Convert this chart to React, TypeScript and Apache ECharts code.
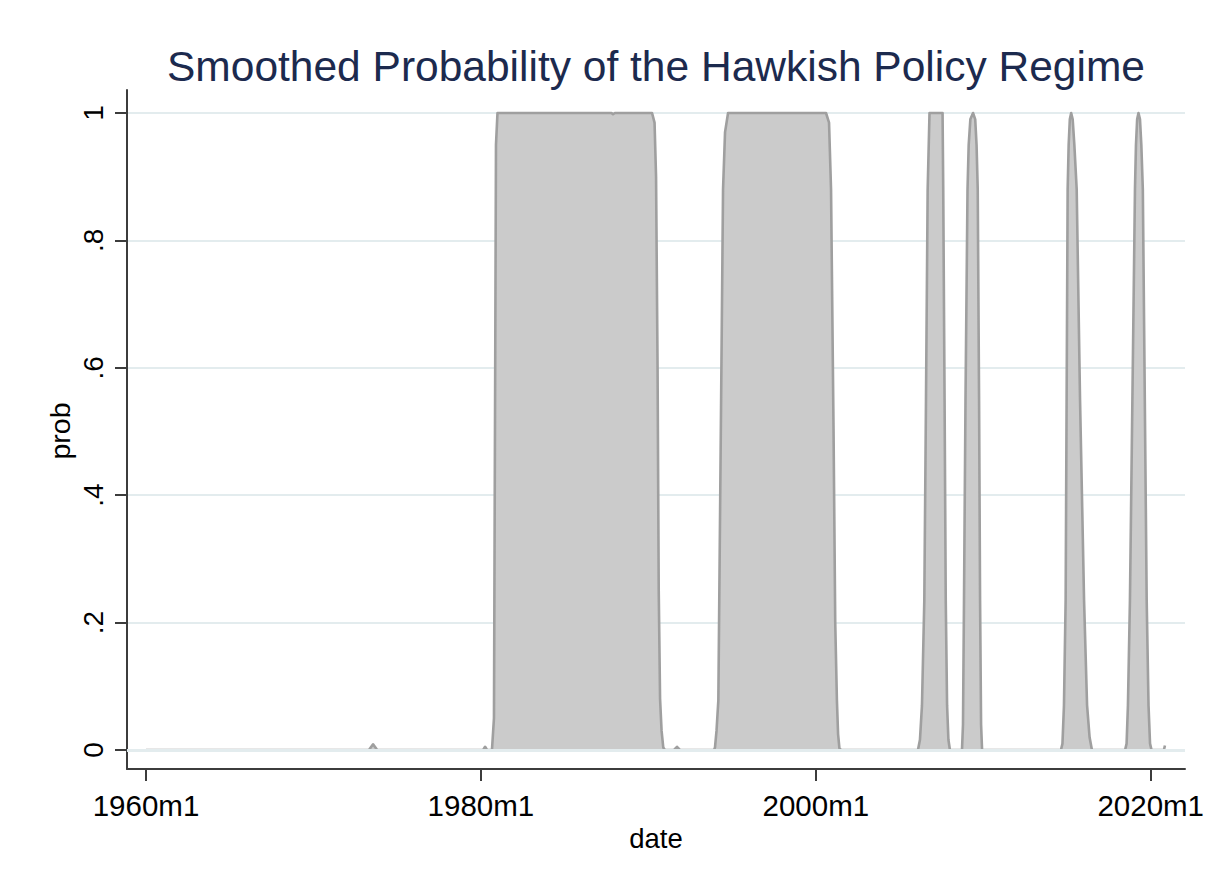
import React, { useEffect, useRef } from "react";
import * as echarts from "echarts";

const TITLE = "Smoothed Probability of the Hawkish Policy Regime";
const X_NAME = "date";
const Y_NAME = "prob";

// dates as fractional years (year + (month-1)/12)
const DATES = [
  1960.0, 1973.31, 1973.56, 1973.81, 1980.13, 1980.25, 1980.37,
  1980.66, 1980.78, 1980.84, 1980.9, 1980.99, 1987.8, 1987.89, 1988.0,
  1990.22, 1990.37, 1990.46, 1990.55, 1990.62, 1990.7, 1990.79, 1990.89, 1990.99,
  1991.53, 1991.71, 1991.89,
  1993.92, 1993.98, 1994.07, 1994.18, 1994.31, 1994.46, 1994.58, 1994.76,
  2000.61, 2000.79, 2000.91, 2001.06, 2001.16, 2001.26, 2001.33, 2001.41, 2001.51,
  2006.1, 2006.22, 2006.34, 2006.48, 2006.58, 2006.68, 2006.79,
  2007.57, 2007.61, 2007.69, 2007.76, 2007.84, 2007.92, 2008.01,
  2008.73, 2008.79, 2008.85, 2008.94, 2009.06, 2009.13, 2009.23, 2009.39,
  2009.52, 2009.6, 2009.67, 2009.75, 2009.81, 2009.87, 2009.93,
  2014.64, 2014.73, 2014.82, 2014.92, 2015.04, 2015.1, 2015.17, 2015.25,
  2015.34, 2015.44, 2015.58, 2015.78, 2016.02, 2016.2, 2016.35, 2016.49,
  2018.47, 2018.56, 2018.64, 2018.76, 2019.06, 2019.12, 2019.19, 2019.27,
  2019.36, 2019.44, 2019.53, 2019.76, 2019.87, 2019.96, 2020.05,
  2020.79, 2020.85,
];

const PROB = [
  0, 0, 0.009, 0, 0, 0.005, 0,
  0, 0.05, 0.5, 0.95, 1, 1, 0.998, 1,
  1, 0.985, 0.9, 0.6, 0.25, 0.08, 0.03, 0.004, 0,
  0, 0.005, 0,
  0, 0.004, 0.03, 0.078, 0.45, 0.88, 0.97, 1,
  1, 0.985, 0.88, 0.5, 0.2, 0.078, 0.025, 0.003, 0,
  0, 0.016, 0.07, 0.235, 0.55, 0.88, 1,
  1, 0.88, 0.55, 0.235, 0.07, 0.016, 0,
  0, 0.04, 0.235, 0.55, 0.88, 0.95, 0.99, 1,
  0.99, 0.95, 0.88, 0.55, 0.235, 0.04, 0,
  0, 0.01, 0.07, 0.235, 0.88, 0.95, 0.99, 1,
  0.99, 0.95, 0.88, 0.55, 0.235, 0.07, 0.02, 0,
  0, 0.01, 0.07, 0.235, 0.88, 0.95, 0.99, 1,
  0.99, 0.95, 0.88, 0.235, 0.07, 0.01, 0,
  0, 0.007,
];

const X_TICKS = [1960, 1980, 2000, 2020];
const X_MIN = 1958.865;
const X_MAX = 2022.048;

const FONT = '"Liberation Sans", Arial, Helvetica, sans-serif';
const AXIS_COLOR = "#3c3c3c";
const GRID_COLOR = "#e3ecee";

export default function App() {
  const ref = useRef<HTMLDivElement>(null);

  useEffect(() => {
    const chart = echarts.init(ref.current!, null, { renderer: "svg" });
    const yLabel = (v: number) => {
      if (Math.abs(v) < 1e-9) return "0";
      if (Math.abs(v - 1) < 1e-9) return "1";
      return v.toFixed(1).replace(/^0/, "");
    };
    chart.setOption({
      animation: false,
      backgroundColor: "#ffffff",
      textStyle: { fontFamily: FONT },
      grid: [
        { left: 127, right: 30, top: 90, bottom: 115 },
        { left: 127, right: 30, top: 113, bottom: 134 },
      ],
      xAxis: [
        {
          type: "value",
          gridIndex: 0,
          min: X_MIN,
          max: X_MAX,
          axisLine: { show: true, onZero: false, lineStyle: { color: AXIS_COLOR, width: 2 } },
          axisTick: { show: true, length: 12, customValues: X_TICKS, lineStyle: { color: AXIS_COLOR, width: 2 } },
          axisLabel: {
            customValues: X_TICKS,
            formatter: (v: number) => `${Math.round(v)}m1`,
            fontSize: 29.5,
            color: "#000",
            margin: 21,
            fontFamily: FONT,
          },
          splitLine: { show: false },
        },
        {
          type: "value",
          gridIndex: 1,
          min: X_MIN,
          max: X_MAX,
          show: false,
          splitLine: { show: false },
        },
      ],
      yAxis: [
        {
          type: "value",
          gridIndex: 0,
          min: 0,
          max: 1,
          axisLine: { show: true, onZero: false, lineStyle: { color: AXIS_COLOR, width: 2 } },
          axisTick: { show: false },
          axisLabel: { show: false },
          splitLine: { show: false },
        },
        {
          type: "value",
          gridIndex: 1,
          min: 0,
          max: 1,
          interval: 0.2,
          axisLine: { show: false },
          axisTick: { show: true, length: 12, lineStyle: { color: AXIS_COLOR, width: 2 } },
          axisLabel: {
            rotate: 90,
            fontSize: 28,
            color: "#000",
            margin: 20,
            formatter: yLabel,
            fontFamily: FONT,
          },
          splitLine: { show: true, lineStyle: { color: GRID_COLOR, width: 2 } },
        },
      ],
      graphic: [
        {
          type: "text",
          x: 656,
          y: 66,
          style: {
            text: TITLE,
            fontSize: 42.5,
            fontFamily: FONT,
            fill: "#1c2a4e",
            align: "center",
            verticalAlign: "middle",
          },
        },
        {
          type: "text",
          x: 656,
          y: 838,
          style: {
            text: X_NAME,
            fontSize: 27.5,
            fontFamily: FONT,
            fill: "#000",
            align: "center",
            verticalAlign: "middle",
          },
        },
        {
          type: "text",
          x: 60,
          y: 431,
          rotation: Math.PI / 2,
          style: {
            text: Y_NAME,
            fontSize: 28.5,
            fontFamily: FONT,
            fill: "#000",
            align: "center",
            verticalAlign: "middle",
          },
        },
      ],
      series: [
        {
          type: "line",
          xAxisIndex: 1,
          yAxisIndex: 1,
          data: DATES.map((d, i) => [d, PROB[i]]),
          symbol: "none",
          showSymbol: false,
          clip: false,
          lineStyle: { color: "#9f9f9f", width: 2.6, join: "round" },
          areaStyle: { color: "#cbcbcb", opacity: 1 },
          markLine: {
            silent: true,
            symbol: "none",
            label: { show: false },
            lineStyle: { color: GRID_COLOR, width: 3.2, type: "solid" },
            data: [{ yAxis: 0 }],
          },
        },
      ],
    });
    return () => chart.dispose();
  }, []);

  return (
    <div
      ref={ref}
      style={{ position: "fixed", left: 0, top: 0, width: 1215, height: 884, background: "#fff" }}
    />
  );
}
